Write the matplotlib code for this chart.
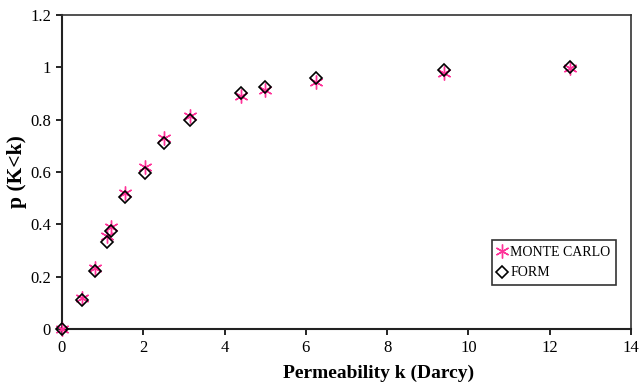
import matplotlib
matplotlib.use("Agg")
import matplotlib.pyplot as plt

plt.rcParams['font.family'] = ['Liberation Serif', 'DejaVu Serif']

k_values = [0, 0.5, 0.8, 1.1, 1.2, 1.55, 2.05, 2.5, 3.15, 4.4, 5.0, 6.25, 9.4, 12.5]
p_monte_carlo = [0, 0.12, 0.235, 0.355, 0.39, 0.52, 0.62, 0.73, 0.815, 0.89, 0.915, 0.945, 0.98, 0.998]
p_form = [0, 0.11, 0.22, 0.332, 0.374, 0.505, 0.597, 0.712, 0.797, 0.9, 0.924, 0.96, 0.988, 1.0]
x_ticks = [0, 2, 4, 6, 8, 10, 12, 14]
y_ticks = [0, 0.2, 0.4, 0.6, 0.8, 1, 1.2]
y_tick_labels = ['0', '0.2', '0.4', '0.6', '0.8', '1', '1.2']

fig = plt.figure(figsize=(6.39, 3.84), dpi=100)
ax = fig.add_axes([62/639, 55/384, 569/639, 314/384])

ax.plot(k_values, p_monte_carlo, linestyle='none', marker=(6, 2, 0), markersize=10,
        markeredgecolor='#FF3399', markeredgewidth=1.0, label='MONTE CARLO', clip_on=False, zorder=3)
ax.plot(k_values, p_form, linestyle='none', marker='D', markersize=6.3,
        markerfacecolor='none', markeredgecolor='black', markeredgewidth=1.2, label='FORM', clip_on=False, zorder=4)

ax.set_xlim(0, 14)
ax.set_ylim(0, 1.2)
ax.set_xticks(x_ticks)
ax.set_yticks(y_ticks)
ax.set_yticklabels(y_tick_labels)
ax.tick_params(direction='out', length=4, width=1.2, labelsize=12, colors='black', pad=4)
for s in ['top', 'right']:
    ax.spines[s].set_linewidth(1.2)
    ax.spines[s].set_color('#333333')
for s in ['left', 'bottom']:
    ax.spines[s].set_linewidth(1.5)
    ax.spines[s].set_color('#222222')

ax.set_xlabel('Permeability k (Darcy)', fontsize=14, fontweight='bold')
ax.xaxis.set_label_coords(0.557, -0.115)
ax.set_ylabel('p (K<k)', fontsize=15.5, fontweight='bold')
ax.yaxis.set_label_coords(-0.062, 0.5)

leg = ax.legend(loc='lower right', bbox_to_anchor=(0.974, 0.14), fontsize=10, frameon=True,
                fancybox=False, edgecolor='black', handlelength=0.6, handletextpad=0.3,
                borderpad=0.4, labelspacing=0.55, borderaxespad=0)
leg.get_frame().set_linewidth(1.2)

fig.savefig('out.png', dpi=100)
